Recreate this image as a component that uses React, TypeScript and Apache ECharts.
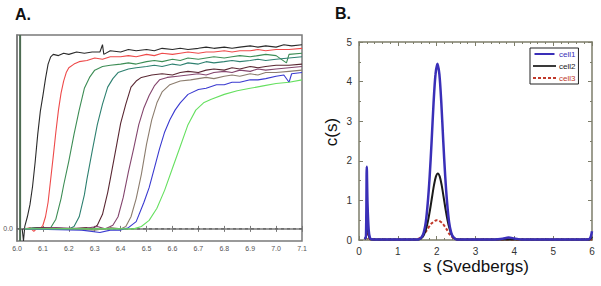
import React, { useEffect, useRef } from "react";
import * as echarts from "echarts";

// ---------- Panel A: sedimentation velocity boundaries ----------
const aNames = ["scan1", "scan2", "scan3", "scan4", "scan5", "scan6", "scan7", "scan8", "scan9"];
const aColors = ["#2b2b2b", "#ee4a4a", "#3d8d55", "#2e8070", "#5a2833", "#84466e", "#8c7d6e", "#3a3ad0", "#66e060"];

const scan1: number[][] = [
  [6.02, 0], [6.025, -0.1], [6.03, 0.02], [6.04, 0.1], [6.05, 0.2], [6.06, 0.35], [6.07, 0.55], [6.08, 0.78],
  [6.09, 0.97], [6.1, 1.1], [6.11, 1.24], [6.12, 1.36], [6.13, 1.42], [6.14, 1.44], [6.16, 1.43], [6.18, 1.45],
  [6.2, 1.44], [6.23, 1.46], [6.26, 1.45], [6.29, 1.46], [6.32, 1.46], [6.33, 1.52], [6.335, 1.44], [6.36, 1.47],
  [6.4, 1.46], [6.43, 1.48], [6.46, 1.47], [6.5, 1.48], [6.53, 1.47], [6.56, 1.49], [6.6, 1.48], [6.63, 1.49],
  [6.66, 1.48], [6.7, 1.49], [6.73, 1.5], [6.76, 1.49], [6.8, 1.5], [6.83, 1.49], [6.86, 1.5], [6.9, 1.51],
  [6.93, 1.5], [6.96, 1.51], [7.0, 1.5], [7.03, 1.52], [7.06, 1.51], [7.1, 1.52],
];
const scan2: number[][] = [
  [6.03, 0], [6.05, 0.01], [6.065, -0.02], [6.08, 0.01], [6.09, 0.0], [6.1, 0.03], [6.11, 0.1], [6.12, 0.22],
  [6.13, 0.41], [6.14, 0.6], [6.15, 0.8], [6.16, 0.98], [6.17, 1.12], [6.18, 1.22], [6.19, 1.29], [6.2, 1.33],
  [6.22, 1.36], [6.24, 1.38], [6.27, 1.39], [6.3, 1.41], [6.33, 1.4], [6.36, 1.42], [6.4, 1.42], [6.43, 1.43],
  [6.46, 1.42], [6.5, 1.44], [6.53, 1.43], [6.56, 1.45], [6.6, 1.44], [6.63, 1.45], [6.66, 1.46], [6.7, 1.45],
  [6.73, 1.46], [6.76, 1.46], [6.8, 1.47], [6.83, 1.46], [6.86, 1.47], [6.9, 1.47], [6.93, 1.48], [6.96, 1.47],
  [7.0, 1.48], [7.05, 1.48], [7.1, 1.49],
];
const scan3: number[][] = [
  [6.03, 0], [6.08, 0.01], [6.11, 0.0], [6.13, 0.01], [6.15, 0.08], [6.17, 0.25], [6.18, 0.36], [6.2, 0.56],
  [6.22, 0.78], [6.24, 0.98], [6.26, 1.16], [6.28, 1.25], [6.3, 1.31], [6.33, 1.34], [6.36, 1.35], [6.4, 1.36],
  [6.43, 1.37], [6.46, 1.36], [6.5, 1.38], [6.53, 1.39], [6.56, 1.38], [6.6, 1.4], [6.63, 1.39], [6.66, 1.41],
  [6.7, 1.4], [6.73, 1.41], [6.76, 1.42], [6.8, 1.41], [6.83, 1.42], [6.86, 1.43], [6.9, 1.42], [6.93, 1.43],
  [6.96, 1.44], [7.0, 1.43], [7.04, 1.37], [7.05, 1.44], [7.1, 1.45],
];
const scan4: number[][] = [
  [6.03, 0], [6.1, 0.01], [6.15, 0.0], [6.2, 0.0], [6.22, 0.02], [6.24, 0.1], [6.26, 0.28], [6.27, 0.41],
  [6.29, 0.64], [6.31, 0.86], [6.33, 1.03], [6.35, 1.17], [6.37, 1.24], [6.39, 1.29], [6.43, 1.32], [6.46, 1.33],
  [6.5, 1.34], [6.53, 1.35], [6.56, 1.34], [6.6, 1.36], [6.63, 1.35], [6.66, 1.37], [6.7, 1.36], [6.73, 1.38],
  [6.76, 1.37], [6.8, 1.38], [6.83, 1.39], [6.86, 1.38], [6.9, 1.39], [6.93, 1.4], [6.96, 1.39], [7.0, 1.4],
  [7.05, 1.41], [7.1, 1.42],
];
const scan5: number[][] = [
  [6.03, 0], [6.1, 0.01], [6.2, 0.0], [6.27, 0.01], [6.29, 0.0], [6.31, 0.03], [6.33, 0.12], [6.35, 0.3],
  [6.36, 0.41], [6.38, 0.64], [6.4, 0.87], [6.42, 1.03], [6.44, 1.17], [6.46, 1.22], [6.48, 1.25], [6.52, 1.27],
  [6.56, 1.28], [6.6, 1.27], [6.63, 1.29], [6.66, 1.3], [6.7, 1.29], [6.73, 1.31], [6.76, 1.32], [6.8, 1.31],
  [6.83, 1.33], [6.86, 1.32], [6.9, 1.34], [6.93, 1.33], [6.96, 1.34], [7.0, 1.35], [7.05, 1.35], [7.1, 1.36],
];
const scan6: number[][] = [
  [6.03, 0], [6.15, 0.01], [6.25, 0.0], [6.31, 0.02], [6.34, 0.0], [6.37, 0.03], [6.39, 0.1], [6.41, 0.26],
  [6.43, 0.47], [6.45, 0.66], [6.47, 0.86], [6.49, 1.0], [6.51, 1.1], [6.53, 1.18], [6.55, 1.23], [6.58, 1.25],
  [6.62, 1.26], [6.66, 1.27], [6.7, 1.28], [6.73, 1.27], [6.76, 1.29], [6.8, 1.3], [6.83, 1.29], [6.86, 1.31],
  [6.9, 1.3], [6.93, 1.32], [6.96, 1.31], [7.0, 1.32], [7.05, 1.33], [7.1, 1.34],
];
const scan7: number[][] = [
  [6.03, 0], [6.2, 0.0], [6.3, -0.01], [6.36, 0.01], [6.4, 0.0], [6.42, 0.02], [6.44, 0.1], [6.46, 0.25],
  [6.48, 0.45], [6.5, 0.7], [6.52, 0.9], [6.54, 1.04], [6.56, 1.13], [6.59, 1.19], [6.63, 1.22], [6.67, 1.23],
  [6.7, 1.24], [6.73, 1.25], [6.76, 1.24], [6.8, 1.26], [6.83, 1.27], [6.86, 1.26], [6.9, 1.28], [6.93, 1.27],
  [6.96, 1.29], [7.0, 1.29], [7.05, 1.3], [7.1, 1.31],
];
const scan8: number[][] = [
  [6.03, 0], [6.25, -0.01], [6.32, -0.03], [6.36, -0.01], [6.4, -0.01], [6.43, 0.01], [6.46, 0.06], [6.49, 0.22],
  [6.51, 0.34], [6.53, 0.5], [6.55, 0.66], [6.57, 0.8], [6.59, 0.9], [6.61, 0.98], [6.63, 1.04], [6.66, 1.11],
  [6.7, 1.15], [6.73, 1.16], [6.77, 1.19], [6.8, 1.19], [6.83, 1.21], [6.86, 1.21], [6.9, 1.23], [6.93, 1.23],
  [6.96, 1.24], [7.0, 1.26], [7.03, 1.27], [7.05, 1.21], [7.06, 1.28], [7.1, 1.29],
];
const scan9: number[][] = [
  [6.03, 0], [6.3, 0.0], [6.45, 0.0], [6.48, 0.02], [6.51, 0.07], [6.54, 0.17], [6.57, 0.32], [6.6, 0.5],
  [6.63, 0.68], [6.66, 0.86], [6.69, 0.98], [6.72, 1.04], [6.75, 1.07], [6.8, 1.11], [6.85, 1.14], [6.9, 1.16],
  [6.95, 1.18], [7.0, 1.2], [7.05, 1.21], [7.1, 1.23],
];
const aScans = [scan1, scan2, scan3, scan4, scan5, scan6, scan7, scan8, scan9];
const aMeniscus: number[][] = [[6.012, 1.6], [6.012, -0.1]];
const aBaseline: number[][] = [[6.0, 0], [7.1, 0]];

// ---------- Panel B: c(s) distributions ----------
const bNames = ["cell1", "cell2", "cell3"];
const bColors = ["#3a2fb8", "#1a1a1a", "#c0392b"];
const cell1: number[][] = [
  [0.15, 0.02], [0.18, 0.1], [0.2, 1.85], [0.22, 0.9], [0.25, 0.25], [0.28, 0.06], [0.32, 0.02], [0.5, 0.01],
  [1.0, 0.01], [1.52, 0.01], [1.62, 0.08], [1.67, 0.2], [1.72, 0.45], [1.77, 0.93], [1.82, 1.61], [1.87, 2.49],
  [1.92, 3.46], [1.97, 4.18], [2.02, 4.45], [2.07, 4.18], [2.12, 3.46], [2.17, 2.49], [2.22, 1.61], [2.27, 0.93],
  [2.32, 0.45], [2.37, 0.2], [2.42, 0.08], [2.52, 0.01], [3.5, 0.01], [3.7, 0.03], [3.85, 0.06], [4.0, 0.04],
  [4.2, 0.01], [5.9, 0.01], [5.96, 0.06], [6.0, 0.22],
];
const cell2: number[][] = [
  [0.15, 0.02], [0.18, 0.08], [0.2, 0.7], [0.23, 0.3], [0.26, 0.08], [0.3, 0.02], [0.5, 0.01], [1.0, 0.01],
  [1.53, 0.01], [1.63, 0.07], [1.68, 0.15], [1.73, 0.29], [1.78, 0.5], [1.83, 0.77], [1.88, 1.08], [1.93, 1.38],
  [1.98, 1.6], [2.03, 1.68], [2.08, 1.6], [2.13, 1.38], [2.18, 1.08], [2.23, 0.77], [2.28, 0.5], [2.33, 0.29],
  [2.38, 0.15], [2.43, 0.07], [2.53, 0.01], [5.9, 0.01], [5.96, 0.03], [6.0, 0.08],
];
const cell3: number[][] = [
  [0.15, 0.02], [0.18, 0.06], [0.2, 0.35], [0.23, 0.15], [0.27, 0.03], [0.32, 0.01], [1.0, 0.01], [1.45, 0.01],
  [1.55, 0.04], [1.65, 0.12], [1.75, 0.25], [1.85, 0.4], [1.95, 0.48], [2.0, 0.5], [2.05, 0.49], [2.15, 0.42],
  [2.25, 0.28], [2.35, 0.12], [2.45, 0.04], [2.55, 0.01], [6.0, 0.01],
];
const bCells = [cell1, cell2, cell3];

export default function App() {
  const ref = useRef<HTMLDivElement>(null);
  useEffect(() => {
    if (!ref.current) return;
    const chart = echarts.init(ref.current, undefined, { renderer: "svg" });
    const font = "Liberation Sans, Arial, sans-serif";
    const aSeries: any[] = aScans.map((d, i) => ({
      name: aNames[i],
      type: "line",
      xAxisIndex: 0,
      yAxisIndex: 0,
      data: d,
      symbol: "none",
      lineStyle: { color: aColors[i], width: 1.1 },
      itemStyle: { color: aColors[i] },
      z: 3,
    }));
    aSeries.push({
      name: "baseline",
      type: "line",
      xAxisIndex: 0,
      yAxisIndex: 0,
      data: aBaseline,
      symbol: "none",
      lineStyle: { color: "#555", width: 1, type: [3, 3] },
      z: 2,
    });
    aSeries.push({
      name: "meniscus",
      type: "line",
      xAxisIndex: 0,
      yAxisIndex: 0,
      data: aMeniscus,
      symbol: "none",
      lineStyle: { color: "#4d6b52", width: 2 },
      z: 4,
    });
    const bSeries: any[] = bCells.map((d, i) => ({
      name: bNames[i],
      type: "line",
      xAxisIndex: 2,
      yAxisIndex: 2,
      data: d,
      symbol: "none",
      smooth: 0.3,
      lineStyle: {
        color: bColors[i],
        width: i === 0 ? 2.5 : 2,
        type: i === 2 ? [3, 2] : "solid",
      },
      itemStyle: { color: bColors[i] },
      z: 5 - i,
    }));
    const bAxisColor = "#7d7d6a";
    const aAxisColor = "#7a7a7a";
    const legendIcons = [
      "path://M0,0h24v2.4h-24z",
      "path://M0,0h24v1.8h-24z",
      "path://M0,0h3v1.8h-3z M5,0h3v1.8h-3z M10,0h3v1.8h-3z M15,0h3v1.8h-3z M20,0h3v1.8h-3z",
    ];
    chart.setOption({
      animation: false,
      backgroundColor: "#fff",
      grid: [
        { left: 17, top: 35, width: 285, height: 206, show: true, borderColor: aAxisColor, borderWidth: 1.5 },
        { left: 359, top: 42, width: 233, height: 198, show: false },
      ],
      legend: {
        data: bNames.map((n, i) => ({ name: n, icon: legendIcons[i], textStyle: { color: bColors[i] } })),
        orient: "vertical",
        left: 530,
        top: 48,
        itemWidth: 23,
        itemHeight: 2,
        itemGap: 4,
        padding: [2, 3, 2, 3],
        borderColor: "#222",
        borderWidth: 1,
        textStyle: { fontSize: 8, fontFamily: font, padding: [0, 0, 0, -2] },
        align: "left",
      },
      xAxis: [
        {
          type: "value", gridIndex: 0, min: 6.0, max: 7.1, interval: 0.1,
          axisLine: { show: true, lineStyle: { color: aAxisColor, width: 1.5 } },
          axisTick: { show: true, inside: true, length: 3, lineStyle: { color: aAxisColor } },
          axisLabel: { fontSize: 7, color: "#555", fontFamily: font, margin: 4, formatter: (v: number) => v.toFixed(1) },
          splitLine: { show: false },
        },
        {
          type: "value", gridIndex: 0, position: "top", min: 6.0, max: 7.1, interval: 0.1,
          axisLine: { show: false },
          axisTick: { show: true, inside: true, length: 3, lineStyle: { color: aAxisColor } },
          axisLabel: { show: false },
          splitLine: { show: false },
        },
        {
          type: "value", gridIndex: 1, min: 0, max: 6, interval: 1,
          axisLine: { show: true, lineStyle: { color: bAxisColor, width: 1.5 } },
          axisTick: { show: true, inside: true, length: 4, lineStyle: { color: bAxisColor } },
          minorTick: { show: true, splitNumber: 5, length: 2, lineStyle: { color: bAxisColor } },
          axisLabel: { fontSize: 10, color: "#333", fontFamily: font, margin: 6 },
          splitLine: { show: false },
        },
        {
          type: "value", gridIndex: 1, position: "top", min: 0, max: 6, interval: 1,
          axisLine: { show: true, onZero: false, lineStyle: { color: bAxisColor, width: 1.5 } },
          axisTick: { show: true, inside: true, length: 4, lineStyle: { color: bAxisColor } },
          minorTick: { show: true, splitNumber: 5, length: 2, lineStyle: { color: bAxisColor } },
          axisLabel: { show: false },
          splitLine: { show: false },
        },
      ],
      yAxis: [
        {
          type: "value", gridIndex: 0, min: -0.1, max: 1.6, interval: 0.1,
          axisLine: { show: true, lineStyle: { color: aAxisColor, width: 1.5 } },
          axisTick: { show: false },
          axisLabel: {
            fontSize: 7, color: "#555", fontFamily: font, margin: 4,
            formatter: (v: number) => (Math.abs(v) < 1e-9 ? "0.0" : ""),
          },
          splitLine: { show: false },
        },
        {
          type: "value", gridIndex: 0, position: "right", min: -0.1, max: 1.6,
          axisLine: { show: false }, axisTick: { show: false }, axisLabel: { show: false }, splitLine: { show: false },
        },
        {
          type: "value", gridIndex: 1, min: 0, max: 5, interval: 1,
          axisLine: { show: true, lineStyle: { color: bAxisColor, width: 1.5 } },
          axisTick: { show: true, inside: true, length: 4, lineStyle: { color: bAxisColor } },
          minorTick: { show: true, splitNumber: 2, length: 2, lineStyle: { color: bAxisColor } },
          axisLabel: { fontSize: 10, color: "#333", fontFamily: font, margin: 7 },
          splitLine: { show: false },
        },
        {
          type: "value", gridIndex: 1, position: "right", min: 0, max: 5, interval: 1,
          axisLine: { show: true, onZero: false, lineStyle: { color: bAxisColor, width: 1.5 } },
          axisTick: { show: true, inside: true, length: 4, lineStyle: { color: bAxisColor } },
          minorTick: { show: true, splitNumber: 2, length: 2, lineStyle: { color: bAxisColor } },
          axisLabel: { show: false },
          splitLine: { show: false },
        },
      ],
      series: [...aSeries, ...bSeries],
      graphic: [
        { type: "text", left: 15, top: 6, style: { text: "A.", font: "bold 16px Liberation Sans, Arial, sans-serif", fill: "#111" } },
        { type: "text", left: 335, top: 5, style: { text: "B.", font: "bold 16px Liberation Sans, Arial, sans-serif", fill: "#111" } },
        {
          type: "text", x: 476, y: 266,
          style: { text: "s (Svedbergs)", font: "17px Liberation Sans, Arial, sans-serif", fill: "#111", align: "center", verticalAlign: "middle" },
        },
        {
          type: "text", x: 331, y: 132, rotation: Math.PI / 2,
          style: { text: "c(s)", font: "17px Liberation Sans, Arial, sans-serif", fill: "#111", align: "center", verticalAlign: "middle" },
        },
      ],
    });
    return () => chart.dispose();
  }, []);
  return <div ref={ref} style={{ position: "fixed", left: 0, top: 0, width: 601, height: 286 }} />;
}
